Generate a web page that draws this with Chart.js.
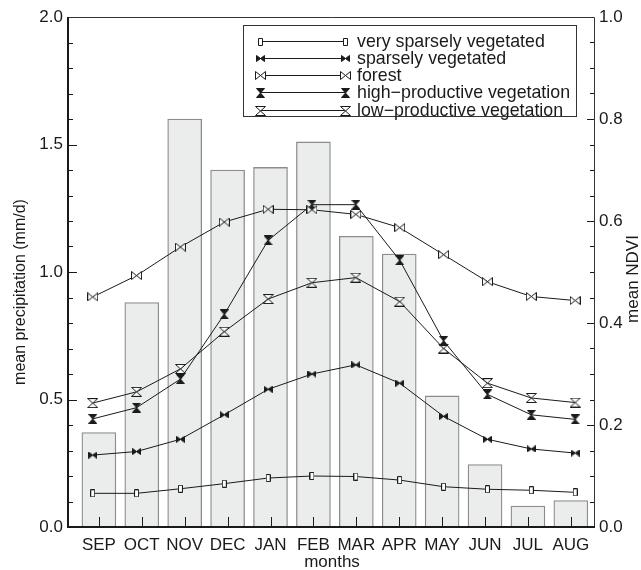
<!DOCTYPE html>
<html>
<head>
<meta charset="utf-8">
<script src="https://cdn.jsdelivr.net/npm/chart.js@4.4.1/dist/chart.umd.min.js"></script>
<style>
  body { margin: 0; background: #fff; }
  #wrap { width: 641px; height: 570px; }
</style>
</head>
<body>
<div id="wrap"><canvas id="ndviChart"></canvas></div>
<script>
const months = ["SEP", "OCT", "NOV", "DEC", "JAN", "FEB", "MAR", "APR", "MAY", "JUN", "JUL", "AUG"];

// mean precipitation (mm/d), left axis
const precipitation = [0.37, 0.88, 1.60, 1.40, 1.41, 1.51, 1.14, 1.07, 0.514, 0.245, 0.082, 0.104];

// mean NDVI, right axis
const verySparse = [0.066, 0.066, 0.075, 0.085, 0.096, 0.100, 0.099, 0.092, 0.079, 0.074, 0.072, 0.068];
const sparse = [0.141, 0.148, 0.172, 0.220, 0.270, 0.300, 0.318, 0.282, 0.217, 0.172, 0.153, 0.145];
const forest = [0.451, 0.493, 0.549, 0.598, 0.623, 0.622, 0.613, 0.587, 0.534, 0.481, 0.452, 0.444];
const highProd = [0.212, 0.234, 0.290, 0.417, 0.562, 0.632, 0.632, 0.523, 0.365, 0.260, 0.220, 0.211];
const lowProd = [0.243, 0.265, 0.310, 0.383, 0.447, 0.479, 0.489, 0.442, 0.350, 0.282, 0.253, 0.244];

const seriesNames = [
    "very sparsely vegetated",
    "sparsely vegetated",
    "forest",
    "high\u2212productive vegetation",
    "low\u2212productive vegetation",
];
const leftTicks = [0, 0.5, 1.0, 1.5, 2.0];
const rightTicks = [0, 0.2, 0.4, 0.6, 0.8, 1.0];

const FONT = "'Liberation Sans', Arial, Helvetica, sans-serif";
const INK = "#1a1a1a";

// little canvases used as point styles
function marker(kind) {
    const c = document.createElement("canvas");
    const size = {
        rect: [5, 8],
        bowFill: [9, 7],
        bow: [11, 9],
        hourFill: [9, 10],
        hour: [11, 10],
    }[kind];
    c.width = size[0];
    c.height = size[1];
    const g = c.getContext("2d");
    const w = size[0] - 0.5, h = size[1] - 0.5;
    g.strokeStyle = INK;
    g.fillStyle = "#fff";
    g.lineWidth = 1;
    g.beginPath();
    if (kind === "rect") {
        g.rect(0.5, 0.5, w - 0.5, h - 0.5);
        g.fill();
    } else if (kind === "bowFill" || kind === "bow") {
        const cx = size[0] / 2, cy = size[1] / 2;
        g.moveTo(0.5, 0.5); g.lineTo(cx, cy); g.lineTo(0.5, h); g.closePath();
        g.moveTo(w, 0.5); g.lineTo(cx, cy); g.lineTo(w, h); g.closePath();
        g.fillStyle = kind === "bowFill" ? INK : "#fff";
        g.fill();
    } else {
        const cx = size[0] / 2, cy = size[1] / 2;
        g.moveTo(0.5, 0.5); g.lineTo(w, 0.5); g.lineTo(cx, cy); g.closePath();
        g.moveTo(0.5, h); g.lineTo(w, h); g.lineTo(cx, cy); g.closePath();
        g.fillStyle = kind === "hourFill" ? INK : "#fff";
        g.fill();
    }
    g.stroke();
    return c;
}

const markers = [marker("rect"), marker("bowFill"), marker("bow"), marker("hourFill"), marker("hour")];
const ndviSeries = [verySparse, sparse, forest, highProd, lowProd];

const lineSets = ndviSeries.map((vals, k) => ({
    type: "line",
    label: seriesNames[k],
    data: vals.map((v, i) => ({ x: i, y: v })),
    xAxisID: "x2",
    yAxisID: "y2",
    borderColor: INK,
    borderWidth: 1,
    pointStyle: markers[k],
    tension: 0,
    order: 1,
}));

const frame = {
    id: "frame",
    afterDatasetsDraw(chart) {
        const { ctx, chartArea: a, scales } = chart;
        ctx.save();
        ctx.strokeStyle = INK;
        ctx.lineWidth = 1;
        // left ticks
        for (let k = 0; k <= 20; k++) {
            const y = Math.round(scales.y.getPixelForValue(k / 10)) + 0.5;
            const len = k % 5 === 0 ? 9 : 5;
            ctx.beginPath(); ctx.moveTo(a.left, y); ctx.lineTo(a.left + len, y); ctx.stroke();
        }
        // right ticks
        for (let k = 0; k <= 20; k++) {
            const y = Math.round(scales.y2.getPixelForValue(k * 0.05)) + 0.5;
            const len = k % 4 === 0 ? 7 : 4;
            ctx.beginPath(); ctx.moveTo(a.right, y); ctx.lineTo(a.right - len, y); ctx.stroke();
        }
        // bottom ticks
        months.forEach((m, i) => {
            const x = Math.round(scales.x.getPixelForValue(i)) + 0.5;
            ctx.beginPath(); ctx.moveTo(x, a.bottom); ctx.lineTo(x, a.bottom - 10); ctx.stroke();
        });
        // box
        ctx.strokeStyle = "#333";
        ctx.beginPath();
        ctx.moveTo(a.left, a.top + 0.5); ctx.lineTo(a.right + 0.5, a.top + 0.5); ctx.lineTo(a.right + 0.5, a.bottom);
        ctx.stroke();
        ctx.strokeStyle = INK;
        ctx.lineWidth = 2;
        ctx.beginPath();
        ctx.moveTo(a.left, a.top); ctx.lineTo(a.left, a.bottom); ctx.lineTo(a.right + 1, a.bottom);
        ctx.stroke();
        ctx.restore();
    },
    afterDraw(chart) {
        const { ctx } = chart;
        ctx.save();
        ctx.fillStyle = INK;
        // axis titles
        ctx.textAlign = "center";
        ctx.textBaseline = "middle";
        ctx.font = "16px " + FONT;
        ctx.save(); ctx.translate(21, 292); ctx.rotate(-Math.PI / 2);
        ctx.fillText("mean precipitation (mm/d)", 0, 0); ctx.restore();
        ctx.font = "17px " + FONT;
        ctx.save(); ctx.translate(633, 279); ctx.rotate(-Math.PI / 2);
        ctx.fillText("mean NDVI", 0, 0); ctx.restore();
        ctx.textBaseline = "alphabetic";
        ctx.fillText("months", 332, 567);

        // legend
        ctx.fillStyle = "#fff";
        ctx.fillRect(243.5, 25.5, 333, 91);
        ctx.strokeStyle = "#333";
        ctx.lineWidth = 1;
        ctx.strokeRect(243.5, 25.5, 333, 91);
        ctx.font = "17.8px " + FONT;
        ctx.textAlign = "left";
        ctx.textBaseline = "middle";
        seriesNames.forEach((name, k) => {
            const y = Math.round(40.7 + 17.2 * k) + 0.5;
            ctx.strokeStyle = INK;
            ctx.beginPath(); ctx.moveTo(260, y); ctx.lineTo(345, y); ctx.stroke();
            const mk = markers[k];
            ctx.drawImage(mk, Math.round(260 - mk.width / 2), Math.round(y - mk.height / 2));
            ctx.drawImage(mk, Math.round(345 - mk.width / 2), Math.round(y - mk.height / 2));
            ctx.fillStyle = INK;
            ctx.fillText(name, 357, y + 1);
        });
        ctx.restore();
    },
};

const tickFont = { family: FONT, size: 17 };

new Chart(document.getElementById("ndviChart"), {
    type: "bar",
    data: {
        datasets: [
            {
                type: "bar",
                label: "precipitation",
                data: precipitation.map((v, i) => ({ x: i, y: v })),
                xAxisID: "x",
                yAxisID: "y",
                backgroundColor: "#ebeded",
                borderColor: "#8c8c8c",
                borderWidth: 1.3,
                barThickness: 34,
                grouped: false,
                order: 10,
            },
            ...lineSets,
        ],
    },
    options: {
        responsive: true,
        maintainAspectRatio: false,
        animation: false,
        layout: { padding: { top: 17 } },
        scales: {
            x: {
                type: "linear",
                position: "bottom",
                offset: false,
                min: -0.72,
                max: 11.54,
                grid: { display: false, drawTicks: false, offset: false },
                border: { display: false },
                afterBuildTicks: (axis) => { axis.ticks = months.map((m, i) => ({ value: i })); },
                afterFit: (axis) => { axis.height = 43; },
                ticks: { font: tickFont, color: INK, padding: 8, maxRotation: 0, autoSkip: false,
                    callback: (v) => months[v] },
            },
            x2: {
                type: "linear",
                display: false,
                offset: false,
                grid: { offset: false },
                min: -0.563,
                max: 11.43,
            },
            y: {
                position: "left",
                min: 0,
                max: 2,
                grid: { display: false, drawTicks: false },
                border: { display: false },
                afterBuildTicks: (axis) => { axis.ticks = leftTicks.map((v) => ({ value: v })); },
                afterFit: (axis) => { axis.width = 68; },
                ticks: { font: tickFont, color: INK, padding: 5, callback: (v) => v.toFixed(1) },
            },
            y2: {
                position: "right",
                min: 0,
                max: 1,
                grid: { display: false, drawTicks: false },
                border: { display: false },
                afterBuildTicks: (axis) => { axis.ticks = rightTicks.map((v) => ({ value: v })); },
                afterFit: (axis) => { axis.width = 47; },
                ticks: { font: tickFont, color: INK, padding: 5, callback: (v) => v.toFixed(1) },
            },
        },
        plugins: {
            legend: { display: false },
            tooltip: { enabled: false },
        },
    },
    plugins: [frame],
});
</script>
</body>
</html>
